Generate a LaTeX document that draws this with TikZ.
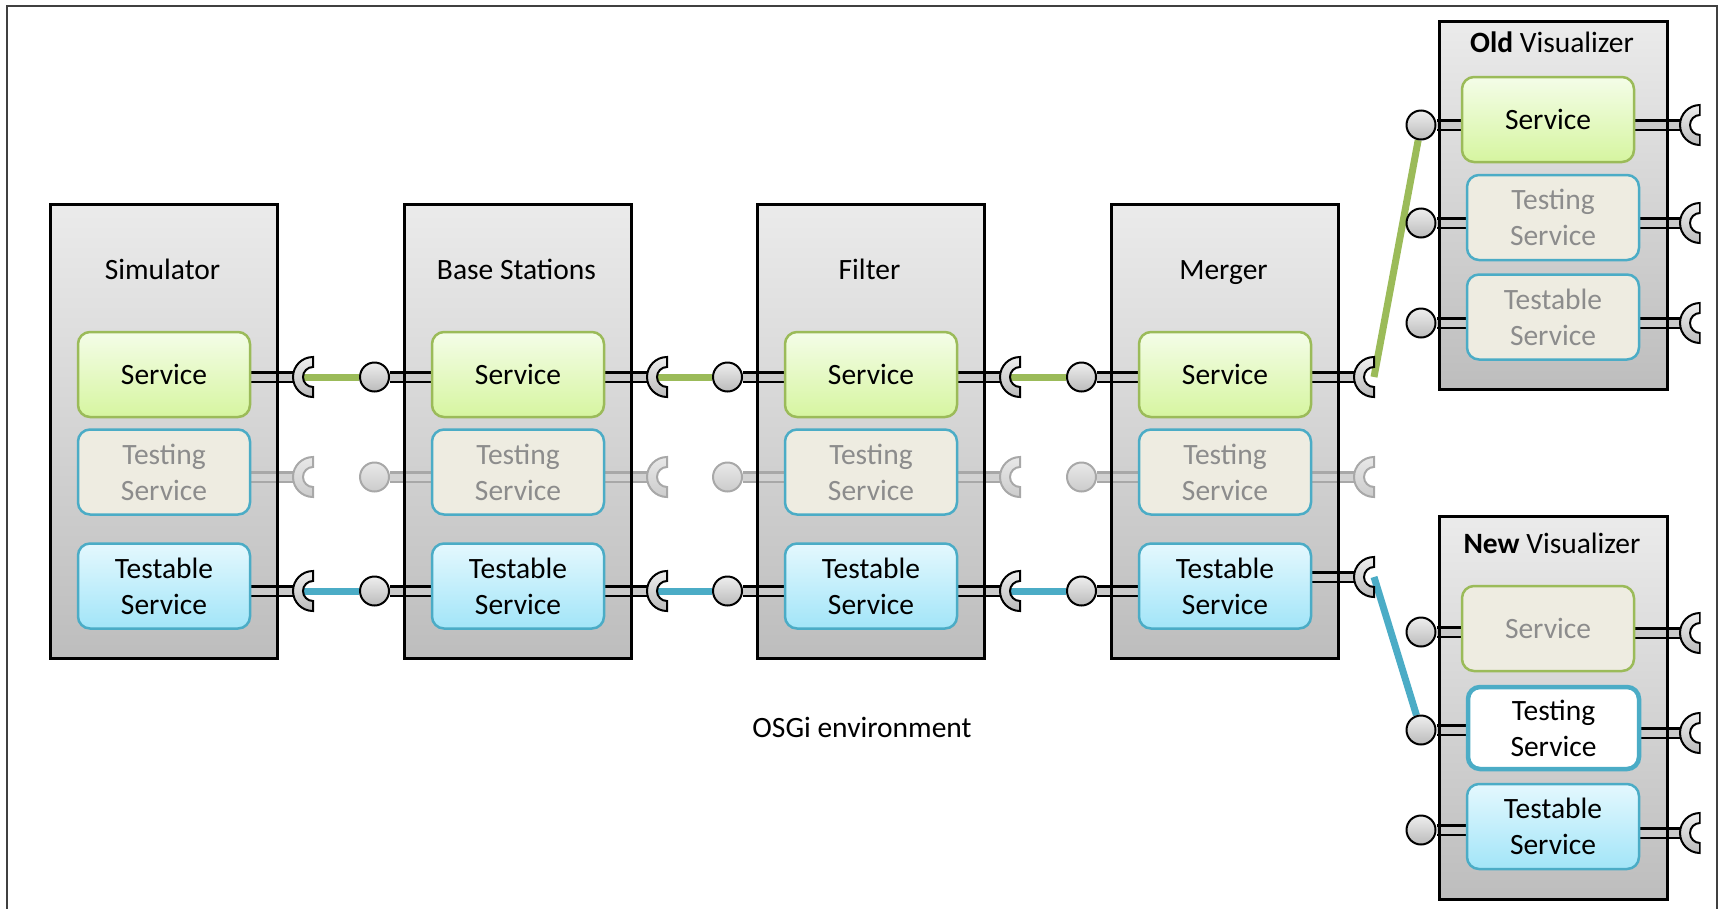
\documentclass[tikz,border=0pt]{standalone}
\usepackage{fontspec}
\setmainfont{Carlito}
\usetikzlibrary{calc}

\definecolor{sgreen}{HTML}{9BBB59}
\definecolor{sblue}{HTML}{4BACC6}
\definecolor{beige}{HTML}{EEECE1}
\definecolor{greytxt}{HTML}{8C8C8C}
\definecolor{greenTop}{HTML}{F4FDE8}
\definecolor{greenBot}{HTML}{D6F5A0}
\definecolor{blueTop}{HTML}{E4F8FE}
\definecolor{blueBot}{HTML}{A2E5F8}
\definecolor{colTop}{HTML}{EBEBEB}
\definecolor{colBot}{HTML}{BDBDBD}
\definecolor{offline}{HTML}{A8A8A8}
\definecolor{partTop}{HTML}{EEEEEE}
\definecolor{partBot}{HTML}{BBBBBB}
\definecolor{offTop}{HTML}{E8E8E8}
\definecolor{offBot}{HTML}{CCCCCC}
\definecolor{stickgrey}{HTML}{CACACA}
\definecolor{stickoffgrey}{HTML}{D2D2D2}
\definecolor{framec}{HTML}{404040}

\pgfdeclarelayer{base}
\pgfdeclarelayer{conn}
\pgfdeclarelayer{sticks}
\pgfsetlayers{base,conn,sticks,main}

\begin{document}
\begin{tikzpicture}[x=1pt,y=-1pt,
  lbl/.style={font=\fontsize{29.5}{36}\selectfont},
  colbox/.style={draw=black, line width=2.5pt, anchor=north west, inner sep=0,
    minimum width=227pt, minimum height=454pt},
  colshade/.style={top color=colTop, bottom color=colBot},
  svc/.style={lbl, rounded corners=12pt, line width=2.5pt, inner sep=0,
    minimum width=172pt, minimum height=85pt, align=center},
  svcon/.style={svc, draw=sgreen, top color=greenTop, bottom color=greenBot},
  svcoff/.style={svc, draw=sgreen, fill=beige, text=greytxt},
  tstoff/.style={svc, draw=sblue, fill=beige, text=greytxt},
  tston/.style={svc, draw=sblue, line width=4.5pt, fill=white},
  tblon/.style={svc, draw=sblue, top color=blueTop, bottom color=blueBot},
  tbloff/.style={svc, draw=sblue, fill=beige, text=greytxt},
  ball/.style={circle, draw=black, line width=2pt, minimum size=29pt, inner sep=0,
    top color=partTop, bottom color=partBot},
  balloff/.style={ball, draw=offline, top color=offTop, bottom color=offBot},
  sockon/.style={draw=black, line width=2pt, top color=partTop, bottom color=partBot},
  sockoff/.style={draw=offline, line width=2pt, top color=offTop, bottom color=offBot},
  pics/sock/.style={code={
    \path[#1] (0pt,20pt) -- (0pt,10pt) arc[start angle=90,end angle=270,radius=10pt]
      -- (0pt,-20pt) arc[start angle=270,end angle=90,radius=20pt] -- cycle;}},
  stick/.style={draw=black, line width=2.2pt, double=stickgrey, double distance=7pt},
  stickoff/.style={draw=offline, line width=2.2pt, double=stickoffgrey, double distance=7pt},
  gconn/.style={draw=sgreen, line width=7pt},
  bconn/.style={draw=sblue, line width=7pt}
]
\useasboundingbox (0,0) rectangle (1721,908);

% outer frame of the environment
\draw[framec, line width=2pt] (7,915) -- (7,6) -- (1717,6) -- (1717,915);

% the four bundles of the pipeline
\foreach \L/\n/\nm/\q in {49/sim/Simulator/591, 403/bs/Base Stations/591,
                         756/fl/Filter/591, 1110/mg/Merger/577}{
  \node[colbox] (\n) at (\L,203) {};
  \node[lbl, anchor=base] (\n-title) at (\L+113.5,279) {\nm};
  \node[svcon] (\n-svc) at (\L+115,374.5) {Service};
  \node[tstoff] (\n-tst) at (\L+115,472) {Testing\\Service};
  \node[tblon] (\n-tbl) at (\L+115,586) {Testable\\Service};
  \coordinate (\n-out1) at (\L+264,377);
  \coordinate (\n-out2) at (\L+264,477);
  \coordinate (\n-out3) at (\L+264,\q);
  \pic at (\n-out1) {sock=sockon};
  \pic at (\n-out2) {sock=sockoff};
  \pic at (\n-out3) {sock=sockon};
  \begin{pgfonlayer}{base}
    \shade[colshade] (\n.north west) rectangle (\n.south east);
  \end{pgfonlayer}
  \begin{pgfonlayer}{sticks}
    \draw[stick] (\n-svc.east |- \n-out1) -- ([xshift=-14pt]\n-out1);
    \draw[stickoff] (\n-tst.east |- \n-out2) -- ([xshift=-14pt]\n-out2);
    \draw[stick] (\n-tbl.east |- \n-out3) -- ([xshift=-14pt]\n-out3);
  \end{pgfonlayer}
}

% imported services and the links between consecutive bundles
\foreach \L/\n/\p in {403/bs/sim, 756/fl/bs, 1110/mg/fl}{
  \node[ball] (\n-in1) at (\L-28.5,377) {};
  \node[balloff] (\n-in2) at (\L-28.5,477) {};
  \node[ball] (\n-in3) at (\L-28.5,591) {};
  \begin{pgfonlayer}{sticks}
    \draw[stick] (\n-in1) -- (\n-svc.west |- \n-in1);
    \draw[stickoff] (\n-in2) -- (\n-tst.west |- \n-in2);
    \draw[stick] (\n-in3) -- (\n-tbl.west |- \n-in3);
  \end{pgfonlayer}
  \begin{pgfonlayer}{conn}
    \draw[gconn, shorten <=-10pt] (\p-out1) -- (\n-in1);
    \draw[bconn, shorten <=-10pt] (\p-out3) -- (\n-in3);
  \end{pgfonlayer}
}

% old visualizer
\node[colbox, minimum width=228pt, minimum height=368pt] (ov) at (1438,20) {};
\node[lbl, anchor=base] (ov-title) at (1552,52) {\textbf{Old} Visualizer};
\node[svcon] (ov-svc) at (1548,119.5) {Service};
\node[tstoff] (ov-tst) at (1553,217.5) {Testing\\Service};
\node[tbloff] (ov-tbl) at (1553,317) {Testable\\Service};
\node[ball] (ov-in1) at (1421,125) {};
\node[ball] (ov-in2) at (1421,223) {};
\node[ball] (ov-in3) at (1421,323) {};
\coordinate (ov-out1) at (1700,125);
\coordinate (ov-out2) at (1700,223);
\coordinate (ov-out3) at (1700,323);

% new visualizer
\node[colbox, minimum width=228pt, minimum height=383pt] (nv) at (1438,515) {};
\node[lbl, anchor=base] (nv-title) at (1552,553) {\textbf{New} Visualizer};
\node[svcoff] (nv-svc) at (1548,628.5) {Service};
\node[tston, minimum width=171pt, minimum height=82pt] (nv-tst) at (1553.5,728) {Testing\\Service};
\node[tblon] (nv-tbl) at (1553,826.5) {Testable\\Service};
\node[ball] (nv-in1) at (1421,632) {};
\node[ball] (nv-in2) at (1421,730) {};
\node[ball] (nv-in3) at (1421,830) {};
\coordinate (nv-out1) at (1700,633);
\coordinate (nv-out2) at (1700,733);
\coordinate (nv-out3) at (1700,833);

\begin{scope}
  \clip (1600,0) rectangle (1700.5,908);
  \foreach \c in {ov-out1,ov-out2,ov-out3,nv-out1,nv-out2,nv-out3}{
    \pic at (\c) {sock=sockon};
  }
\end{scope}

\begin{pgfonlayer}{base}
  \shade[colshade] (ov.north west) rectangle (ov.south east);
  \shade[colshade] (nv.north west) rectangle (nv.south east);
\end{pgfonlayer}

\begin{pgfonlayer}{sticks}
  \draw[stick] (ov-in1) -- (ov-svc.west |- ov-in1);
  \draw[stick] (ov-in2) -- (ov-tst.west |- ov-in2);
  \draw[stick] (ov-in3) -- (ov-tbl.west |- ov-in3);
  \draw[stick] (nv-in1) -- (nv-svc.west |- nv-in1);
  \draw[stick] (nv-in2) -- (nv-tst.west |- nv-in2);
  \draw[stick] (nv-in3) -- (nv-tbl.west |- nv-in3);
  \draw[stick] (ov-svc.east |- ov-out1) -- ([xshift=-14pt]ov-out1);
  \draw[stick] (ov-tst.east |- ov-out2) -- ([xshift=-14pt]ov-out2);
  \draw[stick] (ov-tbl.east |- ov-out3) -- ([xshift=-14pt]ov-out3);
  \draw[stick] (nv-svc.east |- nv-out1) -- ([xshift=-14pt]nv-out1);
  \draw[stick] (nv-tst.east |- nv-out2) -- ([xshift=-14pt]nv-out2);
  \draw[stick] (nv-tbl.east |- nv-out3) -- ([xshift=-14pt]nv-out3);
\end{pgfonlayer}

% links from the merger to the visualizers
\begin{pgfonlayer}{conn}
  \draw[gconn] (mg-out1) -- (ov-in1);
  \draw[bconn] (mg-out3) -- (nv-in2);
\end{pgfonlayer}

\node[lbl, anchor=base] (env) at (862,737) {OSGi environment};
\end{tikzpicture}
\end{document}
